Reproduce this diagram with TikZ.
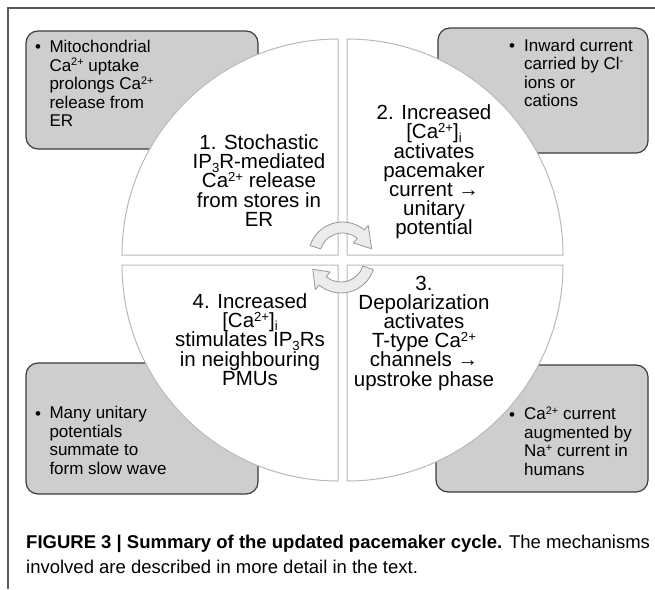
\documentclass[tikz,border=0pt]{standalone}
\usepackage{fontspec}
\usepackage{graphicx}
\setmainfont{Liberation Sans}
\usetikzlibrary{calc}
\newcommand{\ssup}[1]{\raisebox{0.3em}{\scalebox{0.64}{#1}}}
\newcommand{\ssub}[1]{\raisebox{-0.16em}{\scalebox{0.64}{#1}}}
\definecolor{boxfill}{RGB}{206,206,206}
\definecolor{boxline}{RGB}{60,60,60}
\definecolor{quadline}{RGB}{185,185,185}
\definecolor{arrfill}{RGB}{236,236,236}
\definecolor{arrline}{RGB}{150,150,150}
\definecolor{frameline}{RGB}{90,90,90}
\begin{document}
\begin{tikzpicture}[x=1pt,y=-1pt,
  note/.style={draw=boxline, fill=boxfill, line width=1.2pt, rounded corners=12pt},
  quad/.style={draw=quadline, fill=white, line width=1pt},
  cyc/.style={draw=arrline, fill=arrfill, line width=0.8pt, line join=round},
  qtext/.style={font=\fontsize{20.5}{19.2}\selectfont, align=center, inner sep=0pt},
  btext/.style={font=\fontsize{17}{18.5}\selectfont, align=left, inner sep=0pt, anchor=west},
  bulletmark/.style={font=\fontsize{17}{18.5}\selectfont, inner sep=0pt, anchor=base west},
  captext/.style={font=\fontsize{18.5}{22}\selectfont, inner sep=0pt, anchor=base west},
  frame/.style={draw=frameline, line width=1.2pt}]
\useasboundingbox (0,0) rectangle (655,589);
\fill[white] (0,0) rectangle (655,589);

% page frame
\coordinate (ftop) at (655,8);
\coordinate (fcorner) at (8,8);
\coordinate (fbottom) at (8,589);
\draw[frame] (ftop) -- (fcorner) -- (fbottom);

% grey note boxes
\path[note] (26,31) rectangle (258,149);
\path[note] (438,28) rectangle (648,153);
\path[note] (26,363) rectangle (258,494);
\path[note] (436,365) rectangle (648,492);

% quadrants
\path[quad] (338,255) -- (122,255) arc[start angle=180, end angle=90, radius=216pt] -- cycle;
\path[quad] (347,255) -- (347,39) arc[start angle=90, end angle=0, radius=216pt] -- cycle;
\path[quad] (347,265) -- (563,265) arc[start angle=0, end angle=-90, radius=216pt] -- cycle;
\path[quad] (338,265) -- (338,481) arc[start angle=-90, end angle=-180, radius=216pt] -- cycle;

% cycle arrows
\coordinate (Ct) at (342.5,256);
\coordinate (Cb) at (341,259);
\path[cyc] ($(Ct)+(162:23pt)$) -- ($(Ct)+(162:34pt)$) arc[start angle=162, end angle=50, radius=34pt]
  -- ($(Ct)+(50:40pt)$) -- ($(Ct)+(14:30pt)$) -- ($(Ct)+(50:17pt)$) -- ($(Ct)+(50:23pt)$)
  arc[start angle=50, end angle=162, radius=23pt] -- cycle;
\path[cyc] ($(Cb)+(-18:23pt)$) -- ($(Cb)+(-18:34pt)$) arc[start angle=-18, end angle=-130, radius=34pt]
  -- ($(Cb)+(-130:40pt)$) -- ($(Cb)+(-160:30pt)$) -- ($(Cb)+(-130:17pt)$) -- ($(Cb)+(-130:23pt)$)
  arc[start angle=-130, end angle=-18, radius=23pt] -- cycle;

% quadrant texts
\node[qtext] (q1) at (259,180.5) {1. Stochastic\\IP\ssub{3}R-mediated\\Ca\ssup{2+} release\\from stores in\\ER};
\node[qtext] (q2) at (434,172) {2. Increased\\{[}Ca\ssup{2+}{]}\ssub{i}\\activates\\pacemaker\\current →\\unitary\\potential};
\node[qtext] (q3) at (424,333) {3.\\Depolarization\\activates\\T-type Ca\ssup{2+}\\channels →\\upstroke phase};
\node[qtext] (q4) at (250,339.5) {4. Increased\\{[}Ca\ssup{2+}{]}\ssub{i}\\stimulates IP\ssub{3}Rs\\in neighbouring\\PMUs};

% box texts
\node[bulletmark] (bTL) at (35,52.3) {•};
\node[btext] (tTL) at (49.3,83.4) {Mitochondrial\\Ca\ssup{2+} uptake\\prolongs Ca\ssup{2+}\\release from\\ER};
\node[bulletmark] (bTR) at (509,51.7) {•};
\node[btext] (tTR) at (524,73) {Inward current\\carried by Cl\ssup{-}\\ions or\\cations};
\node[bulletmark] (bBL) at (35,419) {•};
\node[btext] (tBL) at (49.3,440.5) {Many unitary\\potentials\\summate to\\form slow wave};
\node[bulletmark] (bBR) at (509,420) {•};
\node[btext] (tBR) at (524,441.3) {Ca\ssup{2+} current\\augmented by\\Na\ssup{+} current in\\humans};

% caption
\node[captext] (cap1) at (26,548) {\textbf{FIGURE 3 | Summary of the updated pacemaker cycle.} The mechanisms};
\node[captext] (cap2) at (26,573) {involved are described in more detail in the text.};
\end{tikzpicture}
\end{document}
